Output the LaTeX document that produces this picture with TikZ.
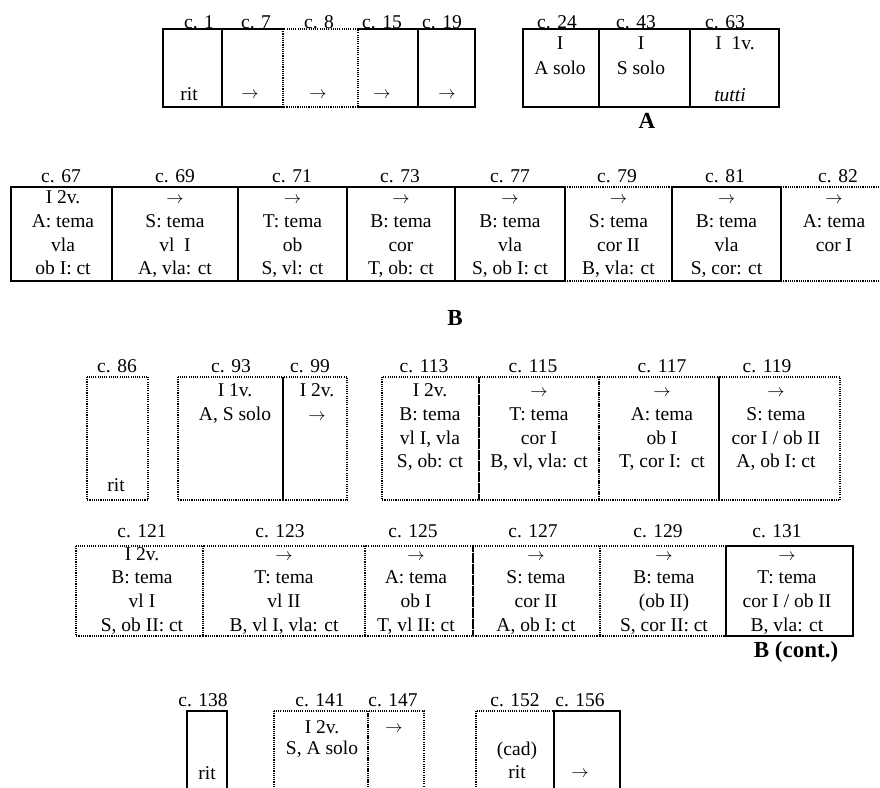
\documentclass[tikz,border=0pt]{standalone}
\usepackage{fontspec}
\setmainfont{Liberation Serif}
\newcommand\ar{{\fontsize{17.5}{17.5}\selectfont$\rightarrow$}}
\newcommand\fs{\rule{0pt}{14pt}}
\begin{document}
\begin{tikzpicture}[x=1pt,y=-1pt,
  every node/.style={inner sep=0pt, outer sep=0pt},
  bx/.style 2 args={rectangle, anchor=north west, minimum width=#1, minimum height=#2},
  lab/.style={anchor=base, font=\fontsize{19.5}{23.8}\selectfont},
  one/.style={anchor=base, font=\fontsize{19.5}{23.8}\selectfont},
  ctext/.style={anchor=north, align=center, font=\fontsize{19.5}{23.8}\selectfont},
  big/.style={anchor=base, font=\fontsize{23}{27}\selectfont\bfseries},
  sol/.style={line width=1.6pt, line cap=rect, line join=miter},
  dot/.style={line width=1.4pt, dash pattern=on 1.1pt off 1.1pt}
]
\useasboundingbox (0,0) rectangle (880,787);
\clip (0,0) rectangle (880,787);
\fill[white] (0,0) rectangle (880,787);

% ---------------- Row 1 ----------------
\node[bx={59pt}{78pt}] (c1) at (163,29) {};
\node[bx={61pt}{78pt}] (c7) at (222,29) {};
\node[bx={75pt}{78pt}] (c8) at (283,29) {};
\node[bx={60pt}{78pt}] (c15) at (358,29) {};
\node[bx={57pt}{78pt}] (c19) at (418,29) {};
\node[bx={76pt}{78pt}] (c24) at (523,29) {};
\node[bx={91pt}{78pt}] (c43) at (599,29) {};
\node[bx={89pt}{78pt}] (c63) at (690,29) {};

\draw[sol] (c1.north west) rectangle (c1.south east);
\draw[sol] (c7.north east) -- (c7.north west) -- (c7.south west) -- (c7.south east);
\draw[dot] (c8.north west) rectangle (c8.south east);
\draw[sol] (c15.north west) -- (c15.north east) -- (c15.south east) -- (c15.south west);
\draw[sol] (c19.north west) rectangle (c19.south east);
\draw[sol] (c24.north west) rectangle (c24.south east);
\draw[sol] (c43.north west) rectangle (c43.south east);
\draw[sol] (c63.north west) rectangle (c63.south east);

\node[lab] (l1) at (199,28.5) {c. 1};
\node[lab] (l7) at (256,28.5) {c. 7};
\node[lab] (l8) at (319,28.5) {c. 8};
\node[lab] (l15) at (382,28.5) {c. 15};
\node[lab] (l19) at (442,28.5) {c. 19};
\node[lab] (l24) at (557,28.5) {c. 24};
\node[lab] (l43) at (636,28.5) {c. 43};
\node[lab] (l63) at (725,28.5) {c. 63};

\node[one] (t1) at (189,100) {rit};
\node[one] (t7) at (250,98.5) {\ar};
\node[one] (t8) at (318,98.5) {\ar};
\node[one] (t15) at (382,98.5) {\ar};
\node[one] (t19) at (447,98.5) {\ar};
\node[ctext, font=\fontsize{19.5}{25}\selectfont] (t24) at (560,35.5) {\fs I\\A solo};
\node[ctext, font=\fontsize{19.5}{25}\selectfont] (t43) at (641,35.5) {\fs I\\S solo};
\node[ctext] (t63) at (735,35.5) {\fs I\ \ 1v.};
\node[one] (t63b) at (730,101) {\itshape tutti};
\node[big] (secA) at (647,128) {A};

% ---------------- Row 2 ----------------
\node[bx={101pt}{94pt}] (r67) at (11,187) {};
\node[bx={126pt}{94pt}] (r69) at (112,187) {};
\node[bx={109pt}{94pt}] (r71) at (238,187) {};
\node[bx={108pt}{94pt}] (r73) at (347,187) {};
\node[bx={110pt}{94pt}] (r77) at (455,187) {};
\node[bx={107pt}{94pt}] (r79) at (565,187) {};
\node[bx={109pt}{94pt}] (r81) at (672,187) {};
\node[bx={110pt}{94pt}] (r82) at (781,187) {};

\draw[dot] (r79.north west) -- (r79.north east);
\draw[dot] (r79.south west) -- (r79.south east);
\draw[dot] (r82.north west) -- (r82.north east);
\draw[dot] (r82.south west) -- (r82.south east);
\draw[sol] (r67.north west) rectangle (r67.south east);
\draw[sol] (r69.north west) rectangle (r69.south east);
\draw[sol] (r71.north west) rectangle (r71.south east);
\draw[sol] (r73.north west) rectangle (r73.south east);
\draw[sol] (r77.north west) rectangle (r77.south east);
\draw[sol] (r81.north west) rectangle (r81.south east);

\node[lab] (l67) at (61,182.5) {c. 67};
\node[lab] (l69) at (175,182.5) {c. 69};
\node[lab] (l71) at (292,182.5) {c. 71};
\node[lab] (l73) at (400,182.5) {c. 73};
\node[lab] (l77) at (510,182.5) {c. 77};
\node[lab] (l79) at (617,182.5) {c. 79};
\node[lab] (l81) at (725,182.5) {c. 81};
\node[lab] (l82) at (838,182.5) {c. 82};

\node[ctext] (t67) at (63,189.5) {\fs I 2v.\\A: tema\\vla\\ob I: ct};
\node[ctext] (t69) at (175,189.5) {\fs\ar\\S: tema\\vl\ \ I\\A, vla: ct};
\node[ctext] (t71) at (292.5,189.5) {\fs\ar\\T: tema\\ob\\S, vl: ct};
\node[ctext] (t73) at (401,189.5) {\fs\ar\\B: tema\\cor\\T, ob: ct};
\node[ctext] (t77) at (510,189.5) {\fs\ar\\B: tema\\vla\\S, ob I: ct};
\node[ctext] (t79) at (618.5,189.5) {\fs\ar\\S: tema\\cor II\\B, vla: ct};
\node[ctext] (t81) at (726.5,189.5) {\fs\ar\\B: tema\\vla\\S, cor: ct};
\node[ctext] (t82) at (834,189.5) {\fs\ar\\A: tema\\cor I};
\node[big] (secB) at (455,325) {B};

% ---------------- Row 3 ----------------
\node[bx={61pt}{123pt}] (r86) at (87,377) {};
\node[bx={105pt}{123pt}] (r93) at (178,377) {};
\node[bx={64pt}{123pt}] (r99) at (283,377) {};
\node[bx={97pt}{123pt}] (r113) at (382,377) {};
\node[bx={120pt}{123pt}] (r115) at (479,377) {};
\node[bx={120pt}{123pt}] (r117) at (599,377) {};
\node[bx={121pt}{123pt}] (r119) at (719,377) {};

\draw[dot] (r86.north west) rectangle (r86.south east);
\draw[dot] (r93.north west) rectangle (r93.south east);
\draw[dot] (r99.north west) rectangle (r99.south east);
\draw[dot] (r113.north west) rectangle (r113.south east);
\draw[dot] (r115.north west) rectangle (r115.south east);
\draw[dot] (r117.north west) rectangle (r117.south east);
\draw[dot] (r119.north west) rectangle (r119.south east);
\draw[sol, line cap=butt] (r93.north east) -- (r93.south east);
\draw[sol, line cap=butt] (r117.north east) -- (r117.south east);

\node[lab] (l86) at (117,372) {c. 86};
\node[lab] (l93) at (231,372) {c. 93};
\node[lab] (l99) at (310,372) {c. 99};
\node[lab] (l113) at (424,372) {c. 113};
\node[lab] (l115) at (533,372) {c. 115};
\node[lab] (l117) at (662,372) {c. 117};
\node[lab] (l119) at (767,372) {c. 119};

\node[one] (t86) at (116,491) {rit};
\node[ctext] (t93) at (235,382.5) {\fs I 1v.\\A, S solo};
\node[ctext] (t99) at (317,382.5) {\fs I 2v.\\\ar};
\node[ctext] (t113) at (430,382.5) {\fs I 2v.\\B: tema\\vl I, vla\\S, ob: ct};
\node[ctext] (t115) at (539,382.5) {\fs\ar\\T: tema\\cor I\\B, vl, vla: ct};
\node[ctext] (t117) at (662,382.5) {\fs\ar\\A: tema\\ob I\\T, cor I:\ \ ct};
\node[ctext] (t119) at (776,382.5) {\fs\ar\\S: tema\\cor I / ob II\\A, ob I: ct};

% ---------------- Row 4 ----------------
\node[bx={127pt}{90pt}] (r121) at (76,546) {};
\node[bx={162pt}{90pt}] (r123) at (203,546) {};
\node[bx={108pt}{90pt}] (r125) at (365,546) {};
\node[bx={127pt}{90pt}] (r127) at (473,546) {};
\node[bx={126pt}{90pt}] (r129) at (600,546) {};
\node[bx={127pt}{90pt}] (r131) at (726,546) {};

\draw[dot] (r121.north west) rectangle (r121.south east);
\draw[dot] (r123.north west) rectangle (r123.south east);
\draw[dot] (r125.north west) rectangle (r125.south east);
\draw[dot] (r127.north west) rectangle (r127.south east);
\draw[dot] (r129.north west) rectangle (r129.south east);
\draw[sol] (r131.north west) rectangle (r131.south east);

\node[lab] (l121) at (142,537) {c. 121};
\node[lab] (l123) at (280,537) {c. 123};
\node[lab] (l125) at (413,537) {c. 125};
\node[lab] (l127) at (533,537) {c. 127};
\node[lab] (l129) at (658,537) {c. 129};
\node[lab] (l131) at (777,537) {c. 131};

\node[ctext] (t121) at (142,546) {\fs I 2v.\\B: tema\\vl I\\S, ob II: ct};
\node[ctext] (t123) at (284,546) {\fs\ar\\T: tema\\vl II\\B, vl I, vla: ct};
\node[ctext] (t125) at (416,546) {\fs\ar\\A: tema\\ob I\\T, vl II: ct};
\node[ctext] (t127) at (536,546) {\fs\ar\\S: tema\\cor II\\A, ob I: ct};
\node[ctext] (t129) at (664,546) {\fs\ar\\B: tema\\(ob II)\\S, cor II: ct};
\node[ctext] (t131) at (787,546) {\fs\ar\\T: tema\\cor I / ob II\\B, vla: ct};
\node[big] (secBc) at (796,657) {B (cont.)};

% ---------------- Row 5 ----------------
\node[bx={40pt}{100pt}] (r138) at (187,711) {};
\node[bx={94pt}{100pt}] (r141) at (274,711) {};
\node[bx={56pt}{100pt}] (r147) at (368,711) {};
\node[bx={78pt}{100pt}] (r152) at (476,711) {};
\node[bx={66pt}{100pt}] (r156) at (554,711) {};

\draw[dot] (r141.north west) rectangle (r141.south east);
\draw[dot] (r147.north west) rectangle (r147.south east);
\draw[dot] (r152.north west) rectangle (r152.south east);
\draw[sol] (r138.north west) rectangle (r138.south east);
\draw[sol] (r156.north west) rectangle (r156.south east);

\node[lab] (l138) at (203,706) {c. 138};
\node[lab] (l141) at (320,706) {c. 141};
\node[lab] (l147) at (393,706) {c. 147};
\node[lab] (l152) at (515,706) {c. 152};
\node[lab] (l156) at (580,706) {c. 156};

\node[one] (t138) at (207,779) {rit};
\node[ctext, font=\fontsize{19.5}{21.5}\selectfont] (t141) at (322,719) {\fs I 2v.\\S, A solo};
\node[one] (t147) at (394,732) {\ar};
\node[ctext, font=\fontsize{19.5}{23}\selectfont] (t152) at (517,741) {\fs(cad)\\rit};
\node[one] (t156) at (580,777) {\ar};
\end{tikzpicture}
\end{document}
